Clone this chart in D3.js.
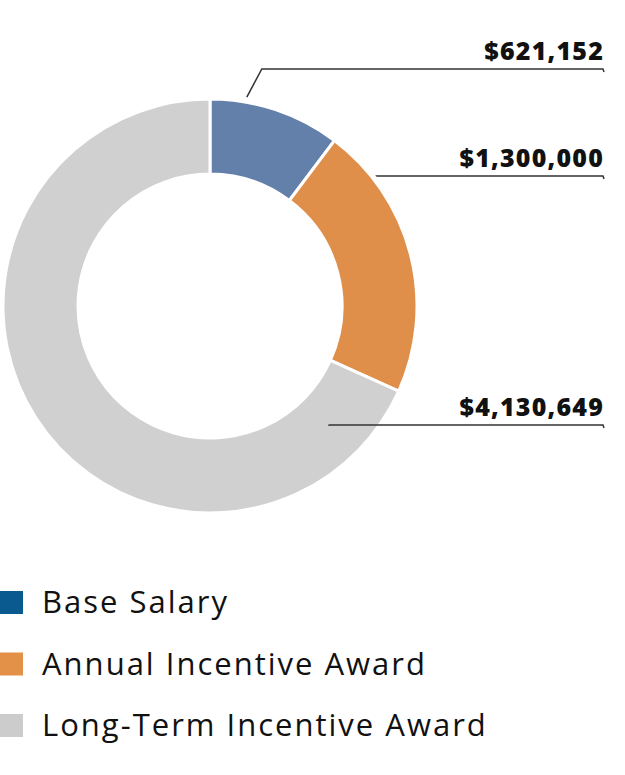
<!DOCTYPE html>
<html>
<head>
<meta charset="utf-8">
<script src="https://cdn.jsdelivr.net/npm/d3@7"></script>
<style>
  html, body { margin: 0; padding: 0; background: #fff; }
  svg { display: block; }
</style>
</head>
<body>
<div id="chart"></div>
<script>
const categories = ['Base Salary', 'Annual Incentive Award', 'Long-Term Incentive Award'];
const values = [621152, 1300000, 4130649];
const sliceColors = ['#6380ab', '#e08f4b', '#d0d0d0'];
const legendColors = ['#0b5a8f', '#e39048', '#cccccc'];

const width = 625, height = 775;
const cx = 210, cy = 306;
const outerRadius = 207, innerRadius = 132;

// leader lines: anchor angle (deg), anchor radius, y of the horizontal rule
const leaders = [
  { angle: 10, r: 212, lineY: 69, elbowDx: 15 },
  { angle: 52, r: 211, lineY: 176, elbowDx: 0 },
  { angle: 135, r: 168, lineY: 425, elbowDx: 0 }
];

const data = categories.map((c, i) => ({ name: c, value: values[i], color: sliceColors[i], legend: legendColors[i] }));

const svg = d3.select('#chart').append('svg')
  .attr('width', width)
  .attr('height', height);

const pie = d3.pie().value(d => d.value).sort(null);
const arc = d3.arc().innerRadius(innerRadius).outerRadius(outerRadius);

const g = svg.append('g').attr('transform', `translate(${cx},${cy})`);

g.selectAll('path')
  .data(pie(data))
  .enter()
  .append('path')
  .attr('d', arc)
  .attr('fill', d => d.data.color)
  .attr('stroke', '#fff')
  .attr('stroke-width', 3);

// labels
const fmt = d3.format('$,');
const lineEnd = 603;
const toRad = a => a * Math.PI / 180;

leaders.forEach((l, i) => {
  const ax = cx + l.r * Math.sin(toRad(l.angle));
  const ay = cy - l.r * Math.cos(toRad(l.angle));
  const pts = [[ax, ay], [ax + l.elbowDx, l.lineY], [lineEnd, l.lineY], [lineEnd + 1, l.lineY + 3]];
  svg.append('path')
    .attr('d', d3.line()(pts))
    .attr('fill', 'none')
    .attr('stroke', '#333')
    .attr('stroke-width', 1.5);

  svg.append('text')
    .attr('x', 604)
    .attr('y', l.lineY - 9.5)
    .attr('text-anchor', 'end')
    .style('font-family', '"Open Sans", sans-serif')
    .style('font-weight', 800)
    .style('font-size', '25px')
    .style('letter-spacing', '1.2px')
    .style('fill', '#111')
    .text(fmt(values[i]));
});

// legend
const legend = svg.selectAll('.legend')
  .data(data)
  .enter()
  .append('g')
  .attr('class', 'legend')
  .attr('transform', (d, i) => `translate(0,${591 + i * 61.5})`);

legend.append('rect')
  .attr('width', 23)
  .attr('height', 23)
  .style('fill', d => d.legend);

legend.append('text')
  .attr('x', 42)
  .attr('y', 22)
  .text(d => d.name)
  .style('font-family', '"Open Sans", sans-serif')
  .style('font-size', '31px')
  .style('letter-spacing', '2px')
  .style('fill', '#111');
</script>
</body>
</html>
